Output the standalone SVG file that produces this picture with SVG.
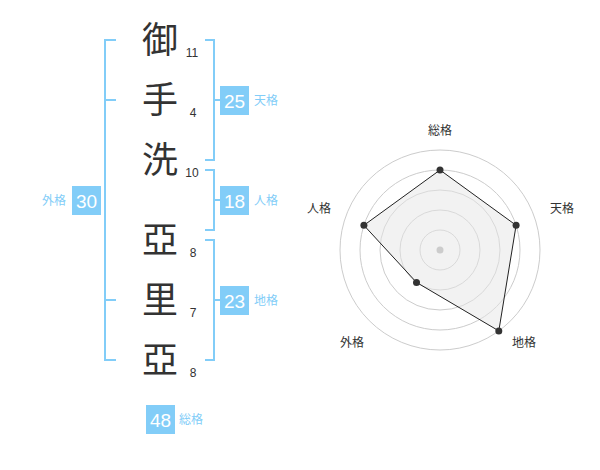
<svg xmlns="http://www.w3.org/2000/svg" width="600" height="470" viewBox="0 0 600 470">
<style>
.ch{font-family:"Noto Sans CJK JP","Noto Sans CJK SC",sans-serif;font-size:36px;fill:#333;text-anchor:middle}
.num{font-family:"Liberation Sans",Arial,sans-serif;font-size:12px;fill:#333;text-anchor:middle}
.br{fill:none;stroke:#82cdf8;stroke-width:2}
.box{fill:#82cdf8}
.bt{font-family:"Liberation Sans",Arial,sans-serif;font-size:19px;fill:#fff;text-anchor:middle}
.lb{font-family:"Noto Sans CJK JP","Noto Sans CJK SC",sans-serif;font-size:12px;fill:#82cdf8}
.rl{font-family:"Noto Sans CJK JP","Noto Sans CJK SC",sans-serif;font-size:12px;fill:#333;text-anchor:middle}
.ring{fill:none;stroke:#ccc;stroke-width:1}
.pt{fill:#333}
</style>
<rect width="600" height="470" fill="#fff"/>
<g id="chars">
<text class="ch" x="160" y="53">御</text>
<text class="ch" x="160" y="113">手</text>
<text class="ch" x="160" y="173">洗</text>
<text class="ch" x="160" y="253">亞</text>
<text class="ch" x="160" y="313">里</text>
<text class="ch" x="160" y="373">亞</text>
</g>
<g id="strokes">
<text class="num" x="192" y="57">11</text>
<text class="num" x="193" y="117">4</text>
<text class="num" x="192" y="177">10</text>
<text class="num" x="193" y="257">8</text>
<text class="num" x="193" y="317">7</text>
<text class="num" x="193" y="377">8</text>
</g>
<g id="connectors">
<path class="br" d="M116,40H105V360H116M105,100H116M105,300H116"/>
<path class="br" d="M205,40H214V160H205M214,100H221"/>
<path class="br" d="M205,170H214V230H205M214,200H221"/>
<path class="br" d="M205,240H214V360H205M214,300H221"/>
</g>
<g id="tenkaku">
<rect class="box" x="220" y="86" width="29" height="29"/>
<text class="bt" x="234.5" y="107.5">25</text>
<text class="lb" x="254" y="104.5">天格</text>
</g>
<g id="jinkaku">
<rect class="box" x="220" y="186" width="29" height="29"/>
<text class="bt" x="234.5" y="207.5">18</text>
<text class="lb" x="254" y="204.5">人格</text>
</g>
<g id="chikaku">
<rect class="box" x="220" y="286" width="29" height="29"/>
<text class="bt" x="234.5" y="307.5">23</text>
<text class="lb" x="254" y="304.5">地格</text>
</g>
<g id="gaikaku">
<rect class="box" x="72" y="186" width="29" height="29"/>
<text class="bt" x="86.5" y="207.5">30</text>
<text class="lb" x="66" y="204.5" text-anchor="end">外格</text>
</g>
<g id="soukaku">
<rect class="box" x="146" y="405" width="29" height="29"/>
<text class="bt" x="160.5" y="426.5">48</text>
<text class="lb" x="179" y="423.5">総格</text>
</g>
<g id="radar">
<circle class="ring" cx="440" cy="250" r="20"/>
<circle class="ring" cx="440" cy="250" r="40"/>
<circle class="ring" cx="440" cy="250" r="60"/>
<circle class="ring" cx="440" cy="250" r="80"/>
<circle class="ring" cx="440" cy="250" r="100"/>
<polygon points="440,170 516.1,225.3 498.8,330.9 416.5,282.4 363.9,225.3" fill="#e6e6e6" fill-opacity="0.5" stroke="#222" stroke-width="1"/>
<circle cx="440" cy="250" r="3.5" fill="#ccc"/>
<circle class="pt" cx="440" cy="170" r="3.5"/>
<circle class="pt" cx="516.1" cy="225.3" r="3.5"/>
<circle class="pt" cx="498.8" cy="330.9" r="3.5"/>
<circle class="pt" cx="416.5" cy="282.4" r="3.5"/>
<circle class="pt" cx="363.9" cy="225.3" r="3.5"/>
<text class="rl" x="440" y="135">総格</text>
<text class="rl" x="562" y="213">天格</text>
<text class="rl" x="319" y="213">人格</text>
<text class="rl" x="352" y="347">外格</text>
<text class="rl" x="524" y="347">地格</text>
</g>
</svg>
